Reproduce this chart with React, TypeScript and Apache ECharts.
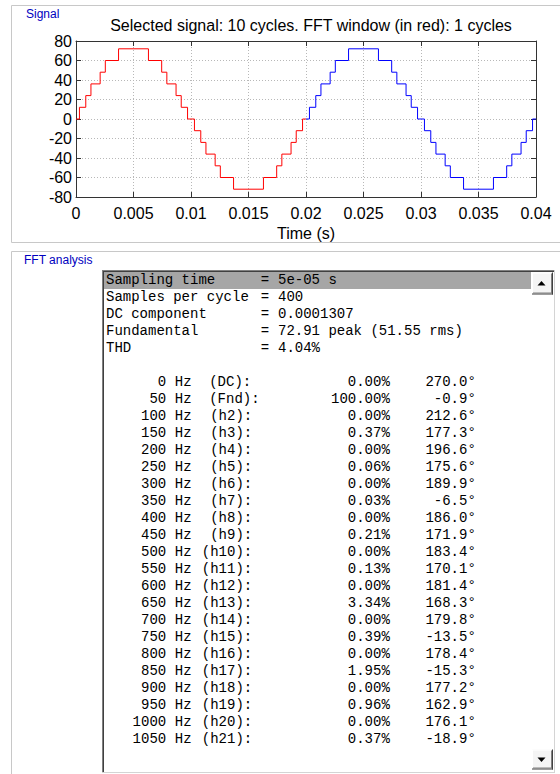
import React, { useEffect, useRef } from 'react';
import * as echarts from 'echarts';

// ---- Signal: step transition times (s) and level reached at each transition ----
const redTimes = [0, 0.0003, 0.00085, 0.0013, 0.0021, 0.00255, 0.0037, 0.0063, 0.00745, 0.0079, 0.0087, 0.00915, 0.0097, 0.0103, 0.01085, 0.0113, 0.0121, 0.01255, 0.0137, 0.0163, 0.01745, 0.0179, 0.0187, 0.01915, 0.0197, 0.02];
const redLevels = [0, 12, 24, 36, 48, 60, 72, 60, 48, 36, 24, 12, 0, -12, -24, -36, -48, -60, -72, -60, -48, -36, -24, -12, 0, 0];
const blueTimes = [0.02, 0.0203, 0.02085, 0.0213, 0.0221, 0.02255, 0.0237, 0.0263, 0.02745, 0.0279, 0.0287, 0.02915, 0.0297, 0.0303, 0.03085, 0.0313, 0.0321, 0.03255, 0.0337, 0.0363, 0.03745, 0.0379, 0.0387, 0.03915, 0.0397, 0.04];
const blueLevels = [0, 12, 24, 36, 48, 60, 72, 60, 48, 36, 24, 12, 0, -12, -24, -36, -48, -60, -72, -60, -48, -36, -24, -12, 0, 0];

const chartTitle = 'Selected signal: 10 cycles. FFT window (in red): 1 cycles';
const xAxisName = 'Time (s)';
const xMin = 0, xMax = 0.04, xInterval = 0.005;
const yMin = -80, yMax = 80, yInterval = 20;

// ---- FFT analysis list ----
const headerLabels = ['Sampling time', 'Samples per cycle', 'DC component', 'Fundamental', 'THD'];
const headerValues = ['5e-05 s', '400', '0.0001307', '72.91 peak (51.55 rms)', '4.04%'];
const harmFreqs = [0, 50, 100, 150, 200, 250, 300, 350, 400, 450, 500, 550, 600, 650, 700, 750, 800, 850, 900, 950, 1000, 1050];
const harmNames = ['DC', 'Fnd', 'h2', 'h3', 'h4', 'h5', 'h6', 'h7', 'h8', 'h9', 'h10', 'h11', 'h12', 'h13', 'h14', 'h15', 'h16', 'h17', 'h18', 'h19', 'h20', 'h21'];
const harmMags = [0.0, 100.0, 0.0, 0.37, 0.0, 0.06, 0.0, 0.03, 0.0, 0.21, 0.0, 0.13, 0.0, 3.34, 0.0, 0.39, 0.0, 1.95, 0.0, 0.96, 0.0, 0.37];
const harmPhases = [270.0, -0.9, 212.6, 177.3, 196.6, 175.6, 189.9, -6.5, 186.0, 171.9, 183.4, 170.1, 181.4, 168.3, 179.8, -13.5, 178.4, -15.3, 177.2, 162.9, 176.1, -18.9];

const SANS = '"Liberation Sans", Arial, sans-serif';
const MONO = '14px "Liberation Mono", "Courier New", monospace';

function txt(text: string, x: number, y: number, align: string = 'left', font: string = MONO, fill: string = '#000') {
  return {
    type: 'text',
    x,
    y,
    silent: true,
    z: 20,
    style: { text, font, fill, align, verticalAlign: 'middle', textAlign: align, textVerticalAlign: 'middle' },
  };
}
function ln(x1: number, y1: number, x2: number, y2: number, stroke: string) {
  return { type: 'line', silent: true, z: 15, shape: { x1, y1, x2, y2 }, style: { stroke, lineWidth: 1 } };
}
function rc(x: number, y: number, w: number, h: number, fill: string, stroke?: string) {
  return { type: 'rect', silent: true, z: 10, shape: { x, y, width: w, height: h }, style: { fill, stroke: stroke || null, lineWidth: 1 } };
}

export default function App() {
  const ref = useRef<HTMLDivElement>(null);

  useEffect(() => {
    if (!ref.current) return;
    const chart = echarts.init(ref.current, undefined, { renderer: 'svg' });

    const X0 = 106, CW = 8.6, ROW0 = 280, RH = 17;
    const els: any[] = [];

    // group boxes
    els.push({ type: 'rect', silent: true, z: 1, shape: { x: 11.5, y: 5.5, width: 600, height: 237 }, style: { fill: null, stroke: '#c8c8c8', lineWidth: 1 } });
    els.push(txt('Signal', 26, 14, 'left', '12px ' + SANS, '#0000c0'));
    els.push({ type: 'rect', silent: true, z: 1, shape: { x: 11.5, y: 251.5, width: 600, height: 600 }, style: { fill: null, stroke: '#c8c8c8', lineWidth: 1 } });
    els.push(txt('FFT analysis', 24, 260, 'left', '12px ' + SANS, '#0000c0'));

    // list box
    els.push(rc(102, 270, 453, 503, '#ffffff'));
    els.push(ln(102, 270.5, 555, 270.5, '#808080'));
    els.push(ln(103, 271.5, 554, 271.5, '#404040'));
    els.push(ln(102.5, 270, 102.5, 773, '#808080'));
    els.push(ln(103.5, 271, 103.5, 772, '#404040'));
    els.push(ln(554.5, 270, 554.5, 773, '#d4d4d4'));
    els.push(ln(102, 772.5, 555, 772.5, '#d4d4d4'));

    // highlight of first row
    els.push({ ...rc(104, 272, 427, 17, '#a6a6a6'), z: 12 });

    // scroll buttons
    const button = (bx: number, by: number, bw: number, bh: number, up: boolean) => {
      els.push({ ...rc(bx, by, bw, bh, '#f4f4f4'), z: 12 });
      els.push(ln(bx, by + 0.5, bx + bw, by + 0.5, '#ffffff'));
      els.push(ln(bx + 0.5, by, bx + 0.5, by + bh, '#ffffff'));
      els.push(ln(bx + bw - 0.5, by, bx + bw - 0.5, by + bh, '#404040'));
      els.push(ln(bx, by + bh - 0.5, bx + bw, by + bh - 0.5, '#404040'));
      els.push(ln(bx + bw - 1.5, by + 1, bx + bw - 1.5, by + bh - 1, '#808080'));
      els.push(ln(bx + 1, by + bh - 1.5, bx + bw - 1, by + bh - 1.5, '#808080'));
      const cx = bx + bw / 2 - 1, cy = by + bh / 2;
      const pts = up
        ? [[cx - 4, cy + 2], [cx + 4, cy + 2], [cx, cy - 2.5]]
        : [[cx - 4, cy - 2], [cx + 4, cy - 2], [cx, cy + 2.5]];
      els.push({ type: 'polygon', silent: true, z: 18, shape: { points: pts }, style: { fill: '#000' } });
    };
    button(532, 272.5, 21, 22, true);
    button(532, 749.5, 21, 20, false);

    // header rows
    headerLabels.forEach((lab, i) => {
      const y = ROW0 + i * RH;
      els.push(txt(lab, X0, y));
      els.push(txt('=', X0 + 18 * CW, y));
      els.push(txt(headerValues[i], X0 + 20 * CW, y));
    });

    // harmonic rows
    harmFreqs.forEach((f, j) => {
      const y = ROW0 + (6 + j) * RH;
      els.push(txt(String(f), X0 + 7 * CW, y, 'right'));
      els.push(txt('Hz', X0 + 8 * CW, y));
      const nm = harmNames[j];
      const label = '(' + nm + '):';
      if (nm.startsWith('h')) els.push(txt(label, X0 + 17 * CW, y, 'right'));
      else els.push(txt(label, X0 + 12 * CW, y));
      els.push(txt(harmMags[j].toFixed(2) + '%', X0 + 33 * CW, y, 'right'));
      els.push(txt(harmPhases[j].toFixed(1) + '°', X0 + 43 * CW, y, 'right'));
    });

    const axisColor = '#333333';
    const labelStyle = { fontSize: 16, color: '#000', fontFamily: SANS };
    const fmt = (v: number) => String(parseFloat(v.toFixed(4)));

    const option: any = {
      animation: false,
      backgroundColor: '#ffffff',
      title: {
        text: chartTitle,
        left: 306,
        top: 12,
        textAlign: 'center',
        textStyle: { fontSize: 16, fontWeight: 'normal', color: '#000', fontFamily: SANS },
      },
      grid: { left: 76, top: 41, width: 460, height: 156, containLabel: false },
      xAxis: [
        {
          type: 'value', min: xMin, max: xMax, interval: xInterval, position: 'bottom',
          name: xAxisName, nameLocation: 'middle', nameGap: 28,
          nameTextStyle: { fontSize: 16, color: '#000', fontFamily: SANS },
          axisLine: { onZero: false, lineStyle: { color: axisColor, width: 1 } },
          axisTick: { inside: true, length: 5, lineStyle: { color: axisColor } },
          axisLabel: { ...labelStyle, margin: 8, formatter: fmt },
          splitLine: { show: true, lineStyle: { type: [1, 2], color: '#b8b8b8', width: 1 } },
        },
        {
          type: 'value', min: xMin, max: xMax, interval: xInterval, position: 'top',
          axisLine: { onZero: false, lineStyle: { color: axisColor, width: 1 } },
          axisTick: { inside: true, length: 5, lineStyle: { color: axisColor } },
          axisLabel: { show: false },
          splitLine: { show: false },
        },
      ],
      yAxis: [
        {
          type: 'value', min: yMin, max: yMax, interval: yInterval, position: 'left',
          axisLine: { show: true, onZero: false, lineStyle: { color: axisColor, width: 1 } },
          axisTick: { show: true, inside: true, length: 5, lineStyle: { color: axisColor } },
          axisLabel: { ...labelStyle, margin: 4 },
          splitLine: { show: true, lineStyle: { type: [1, 2], color: '#b8b8b8', width: 1 } },
        },
        {
          type: 'value', min: yMin, max: yMax, interval: yInterval, position: 'right',
          axisLine: { show: true, onZero: false, lineStyle: { color: axisColor, width: 1 } },
          axisTick: { show: true, inside: true, length: 5, lineStyle: { color: axisColor } },
          axisLabel: { show: false },
          splitLine: { show: false },
        },
      ],
      series: [
        {
          type: 'line', step: 'end', showSymbol: false, xAxisIndex: 0, yAxisIndex: 0,
          data: redTimes.map((t, i) => [t, redLevels[i]]),
          lineStyle: { color: '#ff0000', width: 1 }, itemStyle: { color: '#ff0000' },
          z: 5,
        },
        {
          type: 'line', step: 'end', showSymbol: false, xAxisIndex: 0, yAxisIndex: 0,
          data: blueTimes.map((t, i) => [t, blueLevels[i]]),
          lineStyle: { color: '#0000ff', width: 1 }, itemStyle: { color: '#0000ff' },
          z: 5,
        },
      ],
      graphic: { elements: els },
    };

    chart.setOption(option);
    return () => chart.dispose();
  }, []);

  return (
    <div
      ref={ref}
      style={{ position: 'fixed', left: 0, top: 0, width: 560, height: 774, background: '#fff' }}
    />
  );
}
